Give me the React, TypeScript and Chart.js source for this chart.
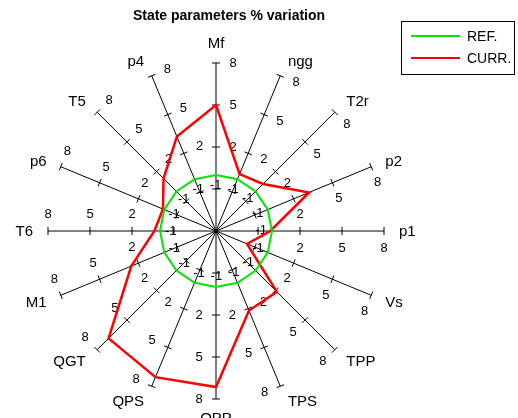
import React, { useEffect, useRef } from "react";
import { Chart, registerables } from "chart.js";

Chart.register(...registerables);

const axisLabels = ["Mf", "ngg", "T2r", "p2", "p1", "Vs", "TPP", "TPS", "OPP", "QPS", "QGT", "M1", "T6", "p6", "T5", "p4"];
const refValues = [0, 0, 0, 0, 0, 0, 0, 0, 0, 0, 0, 0, 0, 0, 0, 0];
const currValues = [5, 0.4, 0.75, 3.2, -0.12, -1.6, 2.15, 2.15, 7.15, 7.3, 6.85, 2.55, 0.4, 0.1, 1.3, 3.3];
const scaleMin = -4;
const scaleMax = 8;
const scaleStep = 3;
const titleText = "State parameters % variation";
const legendNames = ["REF.", "CURR."];
const legendColors = ["#00e600", "#ff0000"];

const FONT = "'Liberation Sans', Arial, sans-serif";

const spokePlugin = {
  id: "spokeTicks",
  beforeDatasetsDraw(chart: any) {
    const scale = chart.scales.r;
    const ctx = chart.ctx;
    const n = chart.data.labels.length;
    ctx.save();
    ctx.strokeStyle = "#000";
    ctx.lineWidth = 1;
    ctx.fillStyle = "#000";
    ctx.font = "13px " + FONT;
    ctx.textAlign = "center";
    ctx.textBaseline = "middle";
    const ticks = scale.ticks.filter((t: any) => t.value > scale.min);
    for (let i = 0; i < n; i++) {
      for (const t of ticks) {
        const p = scale.getPointPositionForValue(i, t.value);
        const px = -Math.sin(p.angle);
        const py = Math.cos(p.angle);
        ctx.beginPath();
        ctx.moveTo(p.x - 4 * px, p.y - 4 * py);
        ctx.lineTo(p.x + 4 * px, p.y + 4 * py);
        ctx.stroke();
        ctx.fillText(String(t.value), p.x + 17 * px, p.y + 17 * py);
      }
    }
    // point labels
    ctx.font = "15px " + FONT;
    for (let i = 0; i < n; i++) {
      const p = scale.getPointPosition(i, scale.drawingArea + 12);
      const deg = Math.round(((p.angle + Math.PI / 2) * 180) / Math.PI + 360) % 360;
      const cx = Math.cos(p.angle);
      let x = p.x;
      let y = p.y;
      if (deg === 0) {
        ctx.textAlign = "center";
        ctx.textBaseline = "bottom";
      } else if (deg === 180) {
        ctx.textAlign = "center";
        ctx.textBaseline = "top";
      } else {
        ctx.textAlign = cx > 0 ? "left" : "right";
        ctx.textBaseline = "middle";
        x += cx > 0 ? 3 : -3;
        y += -4 * Math.cos((deg * Math.PI) / 180) + 1;
      }
      ctx.fillText(chart.data.labels[i], x, y);
    }
    ctx.restore();
  },
  afterDraw(chart: any) {
    const ctx = chart.ctx;
    ctx.save();
    ctx.fillStyle = "#000";
    ctx.font = "bold 14px " + FONT;
    ctx.textAlign = "center";
    ctx.textBaseline = "middle";
    ctx.fillText(titleText, 229, 16);
    // legend box
    ctx.strokeStyle = "#000";
    ctx.lineWidth = 1;
    ctx.strokeRect(401.5, 21.5, 113, 53);
    ctx.font = "14px " + FONT;
    ctx.textAlign = "left";
    chart.data.datasets.forEach((ds: any, k: number) => {
      const y = 36 + k * 22;
      ctx.strokeStyle = ds.borderColor;
      ctx.lineWidth = 2;
      ctx.beginPath();
      ctx.moveTo(411, y);
      ctx.lineTo(460, y);
      ctx.stroke();
      ctx.fillStyle = "#000";
      ctx.fillText(ds.label, 467, y + 1);
    });
    ctx.restore();
  },
};

export default function App() {
  const ref = useRef<HTMLCanvasElement | null>(null);
  useEffect(() => {
    document.body.style.margin = "0";
    const chart = new Chart(ref.current as HTMLCanvasElement, {
      type: "radar",
      data: {
        labels: axisLabels,
        datasets: [
          {
            label: legendNames[0],
            data: refValues,
            borderColor: legendColors[0],
            borderWidth: 2,
            pointRadius: 0,
            fill: false,
            tension: 0,
          },
          {
            label: legendNames[1],
            data: currValues,
            borderColor: legendColors[1],
            borderWidth: 2.5,
            pointRadius: 0,
            fill: false,
            tension: 0,
          },
        ],
      },
      options: {
        responsive: false,
        animation: false,
        layout: { padding: { left: 48, right: 134, top: 63, bottom: 19 } },
        plugins: {
          legend: { display: false },
          title: { display: false },
          tooltip: { enabled: false },
        },
        scales: {
          r: {
            min: scaleMin,
            max: scaleMax,
            ticks: { display: false, stepSize: scaleStep },
            grid: { display: false },
            angleLines: { display: true, color: "#000", lineWidth: 1 },
            pointLabels: { display: false },
          },
        },
      },
      plugins: [spokePlugin],
    });
    return () => chart.destroy();
  }, []);
  return <canvas ref={ref} width={518} height={418} style={{ display: "block" }} />;
}
